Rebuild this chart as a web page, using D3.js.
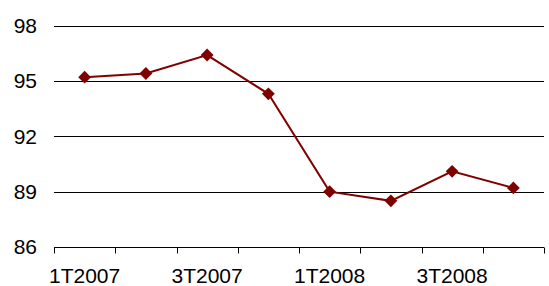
<!DOCTYPE html>
<html>
<head>
<meta charset="utf-8">
<script src="https://cdn.jsdelivr.net/npm/d3@7"></script>
<style>
  body { margin: 0; background: #fff; }
  svg text { font-family: "Liberation Sans", Arial, sans-serif; fill: #000; }
</style>
</head>
<body>
<svg id="chart" width="549" height="286"></svg>
<script>
// quarters and index values
const quarters = ["1T2007", "2T2007", "3T2007", "4T2007", "1T2008", "2T2008", "3T2008", "4T2008"]
const values = [95.2, 95.4, 96.4, 94.3, 89.0, 88.5, 90.1, 89.2]
const y_ticks = [86, 89, 92, 95, 98]
const shown_labels = ["1T2007", "3T2007", "1T2008", "3T2008"]

const svg = d3.select("#chart")
const plot_left = 54, plot_right = 544, plot_top = 25.5, plot_bottom = 247
const font_size = 21

const x = d3.scaleBand().domain(quarters).range([plot_left, plot_right]).padding(0)
const y = d3.scaleLinear().domain([86, 98]).range([plot_bottom, plot_top])

// gridlines
svg.append("g")
    .selectAll("line")
    .data(y_ticks.filter(d => d > 86))
    .join("line")
    .attr("x1", plot_left)
    .attr("x2", plot_right)
    .attr("y1", d => Math.round(y(d)) + 0.5)
    .attr("y2", d => Math.round(y(d)) + 0.5)
    .attr("stroke", "#000")
    .attr("stroke-width", 1)

// y labels
svg.append("g")
    .selectAll("text")
    .data(y_ticks)
    .join("text")
    .attr("x", 37)
    .attr("y", d => y(d))
    .attr("dy", "0.35em")
    .attr("text-anchor", "end")
    .attr("font-size", font_size)
    .text(d => d)

// x axis with ticks on category boundaries
const axis_y = Math.round(plot_bottom) + 0.5
svg.append("line")
    .attr("x1", plot_left).attr("x2", plot_right)
    .attr("y1", axis_y).attr("y2", axis_y)
    .attr("stroke", "#000")

const bounds = quarters.map(q => x(q)).concat([plot_right])
svg.append("g")
    .selectAll("line")
    .data(bounds)
    .join("line")
    .attr("x1", d => Math.round(d) + 0.5)
    .attr("x2", d => Math.round(d) + 0.5)
    .attr("y1", axis_y)
    .attr("y2", axis_y + 6)
    .attr("stroke", "#000")

svg.append("g")
    .selectAll("text")
    .data(shown_labels)
    .join("text")
    .attr("x", d => x(d) + x.bandwidth() / 2)
    .attr("y", 283)
    .attr("text-anchor", "middle")
    .attr("font-size", font_size)
    .text(d => d)

// series line
const cx = (d, i) => x(quarters[i]) + x.bandwidth() / 2
const line = d3.line()
    .x((d, i) => cx(d, i))
    .y(d => y(d))

svg.append("path")
    .datum(values)
    .attr("d", line)
    .attr("fill", "none")
    .attr("stroke", "#800000")
    .attr("stroke-width", 2)

svg.append("g")
    .selectAll("path")
    .data(values)
    .join("path")
    .attr("d", d3.symbol().type(d3.symbolDiamond2).size(105))
    .attr("transform", (d, i) => `translate(${cx(d, i)},${y(d)})`)
    .attr("fill", "#800000")
</script>
</body>
</html>
